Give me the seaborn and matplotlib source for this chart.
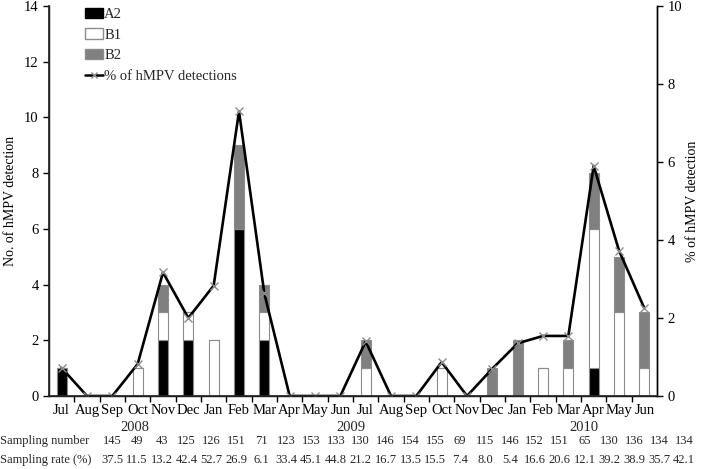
import matplotlib
matplotlib.use("Agg")
import matplotlib.pyplot as plt
import matplotlib.transforms as mtransforms
from matplotlib.patches import Patch
from matplotlib.lines import Line2D
import pandas as pd
import seaborn as sns

months = ["Jul", "Aug", "Sep", "Oct", "Nov", "Dec", "Jan", "Feb", "Mar", "Apr", "May", "Jun",
          "Jul", "Aug", "Sep", "Oct", "Nov", "Dec", "Jan", "Feb", "Mar", "Apr", "May", "Jun"]
a2 = [1, 0, 0, 0, 2, 2, 0, 6, 2, 0, 0, 0, 0, 0, 0, 0, 0, 0, 0, 0, 0, 1, 0, 0]
b1 = [0, 0, 0, 1, 1, 1, 2, 0, 1, 0, 0, 0, 1, 0, 0, 1, 0, 0, 0, 1, 1, 5, 3, 1]
b2 = [0, 0, 0, 0, 1, 0, 0, 3, 1, 0, 0, 0, 1, 0, 0, 0, 0, 1, 2, 0, 1, 2, 2, 2]
pct = [0.72, 0, 0, 0.82, 3.17, 2.0, 2.83, 7.3, 2.63, 0, 0, 0, 1.4, 0, 0, 0.87, 0, 0.7,
       1.35, 1.54, 1.54, 5.9, 3.73, 2.25]
years = ["2008", "2009", "2010"]
year_pos = [2.9, 11.4, 20.6]
sampling_number = [145, 49, 43, 125, 126, 151, 71, 123, 153, 133, 130, 146,
                   154, 155, 69, 115, 146, 152, 151, 65, 130, 136, 134, 134]
sampling_rate = ["37.5", "11.5", "13.2", "42.4", "52.7", "26.9", "6.1", "33.4", "45.1", "44.8",
                 "21.2", "16.7", "13.5", "15.5", "7.4", "8.0", "5.4", "16.6", "20.6", "12.1",
                 "39.2", "38.9", "35.7", "42.1"]

idx = list(range(len(months)))
long = pd.concat([
    pd.DataFrame({"month": idx, "count": a2, "type": "A2"}),
    pd.DataFrame({"month": idx, "count": b1, "type": "B1"}),
    pd.DataFrame({"month": idx, "count": b2, "type": "B2"}),
])
colors = {"A2": "black", "B1": "white", "B2": "#808080"}

sns.set_theme(style="white")
plt.rcParams["font.family"] = ["Liberation Serif", "DejaVu Serif"]
plt.rcParams["font.size"] = 10

fig = plt.figure(figsize=(7.02, 4.69), dpi=100)
ax = fig.add_axes([49 / 702, 73 / 469, 608 / 702, 390 / 469])

sns.histplot(
    data=long, x="month", weights="count", hue="type",
    hue_order=["B2", "B1", "A2"], multiple="stack", discrete=True, shrink=0.4,
    palette=colors, edgecolor="#8c8c8c", linewidth=0.8, alpha=1, legend=False, ax=ax,
)
ax.set_xlim(-0.5, 23.5)
ax.set_ylim(0, 14)
ax.set_yticks(range(0, 15, 2))
ax.set_xticks(idx)
ax.set_xticklabels(months)
ax.set_xticks([i + 0.5 for i in idx[:-1]], minor=True)
ax.tick_params(axis="x", which="major", length=0, pad=6, labelsize=10.5, colors="black")
ax.tick_params(axis="x", which="minor", length=4, width=1, direction="out", color="black", bottom=True)
ax.tick_params(axis="y", length=4, width=1, direction="out", left=True, labelsize=10.5, colors="black")
ax.set_xlabel("")
ax.set_ylabel("No. of hMPV detection", fontsize=10, color="black", labelpad=5)
for s in ["left", "bottom", "right"]:
    ax.spines[s].set_color("black")
    ax.spines[s].set_linewidth(1)
ax.spines["top"].set_visible(False)

ax2 = ax.twinx()
sns.lineplot(x=idx, y=pct, color="black", linewidth=1.9, marker="x", markersize=6,
             markeredgecolor="#8c8c8c", markeredgewidth=1, ax=ax2)
ax2.set_ylim(0, 10)
ax2.set_yticks(range(0, 11, 2))
ax2.tick_params(axis="y", length=4, width=1, direction="out", right=True, labelsize=10.5, colors="black")
ax2.set_ylabel("% of hMPV detection", fontsize=10, color="black", labelpad=3)
ax2.spines["top"].set_visible(False)
ax2.spines["right"].set_color("black")
ax2.spines["right"].set_linewidth(1)
ax2.grid(False)
ax.grid(False)

handles = [
    Patch(facecolor="black", edgecolor="black"),
    Patch(facecolor="white", edgecolor="#8c8c8c"),
    Patch(facecolor="#808080", edgecolor="#8c8c8c"),
    Line2D([], [], color="black", linewidth=1.8, marker="x", markersize=5, markeredgecolor="#8c8c8c"),
]
ax2.legend(handles, ["A2", "B1", "B2", "% of hMPV detections"], loc="upper left",
           bbox_to_anchor=(0.05, 1.01), frameon=False, fontsize=10.5, handlelength=1.2,
           handletextpad=0.1, labelspacing=0.5, borderaxespad=0)

trans = mtransforms.blended_transform_factory(ax.transData, fig.transFigure)
for name, x in zip(years, year_pos):
    ax.text(x, 1 - 427 / 469, name, transform=trans, ha="center", va="center", fontsize=10.5)

fig.text(0.0, 1 - 441 / 469, "Sampling number", ha="left", va="center", fontsize=9)
fig.text(0.0, 1 - 460 / 469, "Sampling rate (%)", ha="left", va="center", fontsize=9)
x0, x1 = 112 / 702, 684 / 702
step = (x1 - x0) / (len(sampling_number) - 1)
for i, (n, r) in enumerate(zip(sampling_number, sampling_rate)):
    fig.text(x0 + i * step, 1 - 441 / 469, str(n), ha="center", va="center", fontsize=9)
    fig.text(x0 + i * step, 1 - 460 / 469, r, ha="center", va="center", fontsize=9)

fig.savefig("out.png", dpi=100)
